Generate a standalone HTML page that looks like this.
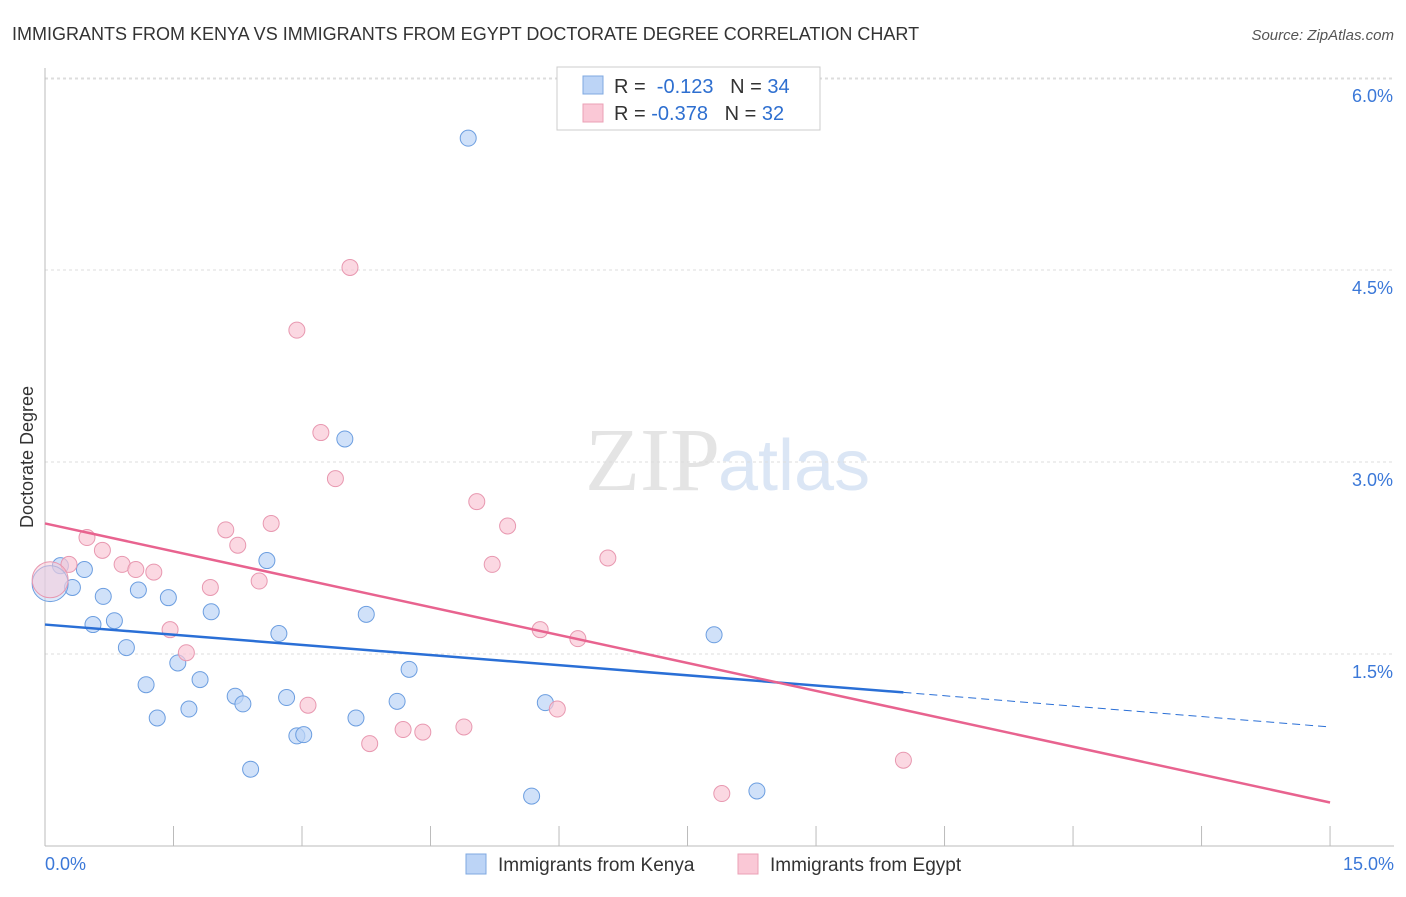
<!DOCTYPE html>
<html><head><meta charset="utf-8"><style>
body{margin:0;background:#fff;font-family:"Liberation Sans",sans-serif}
</style></head><body>
<svg width="1406" height="892" xmlns="http://www.w3.org/2000/svg" font-family="Liberation Sans, sans-serif">
<text x="12" y="40" font-size="18" fill="#333">IMMIGRANTS FROM KENYA VS IMMIGRANTS FROM EGYPT DOCTORATE DEGREE CORRELATION CHART</text>
<text x="1394" y="40" font-size="15" fill="#555" font-style="italic" text-anchor="end">Source: ZipAtlas.com</text>
<text x="720" y="490" font-size="90" fill="#e4e4e4" text-anchor="end" font-family="Liberation Serif, serif">ZIP</text>
<text x="718" y="490" font-size="72" fill="#dbe6f5">atlas</text>
<g id="grid"></g>
<g id="axes"></g>
<text transform="translate(33,457) rotate(-90)" font-size="18" fill="#333" text-anchor="middle">Doctorate Degree</text>
<g id="marks"></g>
<g>
<rect x="557" y="67" width="263" height="63" fill="#fff" stroke="#ccc"/>
<rect x="583" y="76" width="20" height="18" fill="#bcd4f6" stroke="#7fa8e0"/>
<rect x="583" y="104" width="20" height="18" fill="#fac8d6" stroke="#eba0b6"/>
<text x="614" y="93" font-size="20" fill="#333">R = <tspan fill="#2e6fd0">&#160;-0.123</tspan>&#160;&#160;&#160;N = <tspan fill="#2e6fd0">34</tspan></text>
<text x="614" y="120" font-size="20" fill="#333">R = <tspan fill="#2e6fd0">-0.378</tspan>&#160;&#160;&#160;N = <tspan fill="#2e6fd0">32</tspan></text>
</g>
<g>
<rect x="466" y="854" width="20" height="20" fill="#bcd4f6" stroke="#7fa8e0"/>
<text x="498" y="871" font-size="19" fill="#333">Immigrants from Kenya</text>
<rect x="738" y="854" width="20" height="20" fill="#fac8d6" stroke="#eba0b6"/>
<text x="770" y="871" font-size="19" fill="#333">Immigrants from Egypt</text>
</g>
</svg>
<script>
const xTicks=[0,1.5,3,4.5,6,7.5,9,10.5,12,13.5,15];
const yTicks=[1.5,3.0,4.5,6.0];
const yTickLabels=["1.5%","3.0%","4.5%","6.0%"];
const kenyaX=[4.94,3.50,2.59,0.46,0.18,0.32,0.68,1.09,1.44,1.94,3.75,0.56,0.81,2.73,7.81,0.95,1.55,4.25,1.18,1.81,2.22,2.82,2.31,1.68,1.31,4.11,5.84,3.63,2.94,3.02,2.40,5.68,8.31,0.06];
const kenyaY=[5.53,3.18,2.23,2.16,2.19,2.02,1.95,2.00,1.94,1.83,1.81,1.73,1.76,1.66,1.65,1.55,1.43,1.38,1.26,1.30,1.17,1.16,1.11,1.07,1.00,1.13,1.12,1.00,0.86,0.87,0.60,0.39,0.43,2.05];
const egyptX=[3.56,2.94,3.22,3.39,5.04,0.49,5.40,2.64,2.11,2.25,0.67,6.57,5.22,0.28,0.90,1.06,1.27,1.93,2.50,1.46,5.78,6.22,1.65,3.07,5.98,4.89,4.18,4.41,3.79,10.02,7.90,0.06];
const egyptY=[4.52,4.03,3.23,2.87,2.69,2.41,2.50,2.52,2.47,2.35,2.31,2.25,2.20,2.20,2.20,2.16,2.14,2.02,2.07,1.69,1.69,1.62,1.51,1.10,1.07,0.93,0.91,0.89,0.80,0.67,0.41,2.08];
const kenyaTrend=[1.73,1.20,0.93]; // at x=0, 10.02, 15
const egyptTrend=[2.52,0.34]; // at x=0, 15
const X=v=>45+v*85.67, Y=v=>846-v*128;
const NS="http://www.w3.org/2000/svg";
function mk(p,t,a){const e=document.createElementNS(NS,t);for(const k in a)e.setAttribute(k,a[k]);p.appendChild(e);return e;}
const grid=document.getElementById('grid'),axes=document.getElementById('axes'),marks=document.getElementById('marks');
yTicks.forEach((t,i)=>{const l=mk(grid,'line',{x1:45,x2:1394,y1:Y(t),y2:Y(t),stroke:'#ddd','stroke-dasharray':'3,3'});

const tx=mk(axes,'text',{x:1393,y:Y(t)+24,'font-size':18,fill:'#3b78d8','text-anchor':'end'});tx.textContent=yTickLabels[i];
});
const gl=mk(grid,'line',{x1:45,x2:1394,y1:79,y2:79,stroke:'#ddd','stroke-dasharray':'3,3'});

const ya=mk(axes,'line',{x1:45,x2:45,y1:68,y2:846,stroke:'#bbb'});
const xa=mk(axes,'line',{x1:45,x2:1394,y1:846,y2:846,stroke:'#bbb'});
xTicks.forEach(t=>{const l=mk(axes,'line',{x1:X(t),x2:X(t),y1:826,y2:846,stroke:'#bbb'});});
const x0=mk(axes,'text',{x:45,y:870,'font-size':18,fill:'#3b78d8'});x0.textContent='0.0%';
const x1=mk(axes,'text',{x:1394,y:870,'font-size':18,fill:'#3b78d8','text-anchor':'end'});x1.textContent='15.0%';
function dots(xs,ys,fill,stroke,name){xs.forEach((v,i)=>{const big=i===xs.length-1;
const c=mk(marks,'circle',{cx:X(v),cy:Y(ys[i]),r:big?18:8,fill:fill,'fill-opacity':big?0.5:0.7,stroke:stroke,'stroke-width':1});
});}
dots(kenyaX,kenyaY,'#bcd4f6','#6c9ee0','kenya-point');
dots(egyptX,egyptY,'#fac8d6','#e898b0','egypt-point');
let l=mk(marks,'line',{x1:X(0),y1:Y(kenyaTrend[0]),x2:X(10.02),y2:Y(kenyaTrend[1]),stroke:'#2a6fd6','stroke-width':2.5});

l=mk(marks,'line',{x1:X(10.02),y1:Y(kenyaTrend[1]),x2:X(15),y2:Y(kenyaTrend[2]),stroke:'#2a6fd6','stroke-width':1,'stroke-dasharray':'8,5'});

l=mk(marks,'line',{x1:X(0),y1:Y(egyptTrend[0]),x2:X(15),y2:Y(egyptTrend[1]),stroke:'#e8638f','stroke-width':2.5});

</script>
</body></html>
